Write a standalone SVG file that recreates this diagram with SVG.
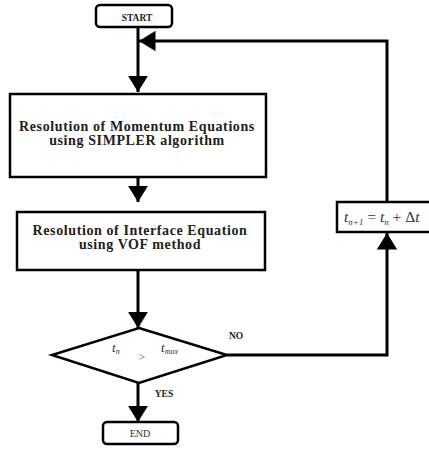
<svg xmlns="http://www.w3.org/2000/svg" width="429" height="450" viewBox="0 0 429 450">
<style>
.box{fill:#fff;stroke:#000;stroke-width:2.5}
.t{font-family:'Liberation Serif',serif;font-weight:bold;fill:#222;text-anchor:middle}
.m{font-family:'Liberation Serif',serif;font-style:italic;fill:#333}
.ln{fill:none;stroke:#000;stroke-width:3}
</style>
<defs>
<marker id="ah" viewBox="0 0 10 10" refX="10" refY="5" markerWidth="5.5" markerHeight="6.8" orient="auto" markerUnits="strokeWidth" preserveAspectRatio="none">
<path d="M0,0 L10,5 L0,10 Z" fill="#000"/>
</marker>
</defs>
<rect width="429" height="450" fill="#fff"/>
<g id="connectors">
<path class="ln" d="M138,27 V92" marker-end="url(#ah)"/>
<path class="ln" d="M138,177 V202" marker-end="url(#ah)"/>
<path class="ln" d="M138,270 V328" marker-end="url(#ah)"/>
<path class="ln" d="M138,383 V422" marker-end="url(#ah)"/>
<path class="ln" d="M227,355 H387 V233" marker-end="url(#ah)"/>
<path class="ln" d="M387,202 V41 H139" marker-end="url(#ah)"/>
<text class="t" x="236" y="339" font-size="9.5">NO</text>
<text class="t" x="164" y="397" font-size="9.5">YES</text>
</g>
<g id="start">
<rect class="box" x="96" y="5" width="76" height="22" rx="4"/>
<text class="t" x="137" y="21" font-size="9.5">START</text>
</g>
<g id="momentum">
<rect class="box" x="10" y="94" width="256" height="83"/>
<text class="t" x="137" y="131" font-size="14" letter-spacing="0.6">Resolution of Momentum Equations</text>
<text class="t" x="137" y="145" font-size="14" letter-spacing="0.6">using SIMPLER algorithm</text>
</g>
<g id="interface">
<rect class="box" x="17" y="212" width="248" height="58"/>
<text class="t" x="140" y="235" font-size="14" letter-spacing="0.6">Resolution of Interface Equation</text>
<text class="t" x="140" y="249" font-size="14" letter-spacing="0.6">using VOF method</text>
</g>
<g id="decision">
<polygon class="box" points="139,328 227,355 139,383 52,355"/>
<text class="m" x="112" y="352" font-size="13">t<tspan font-size="8" dy="2">n</tspan></text>
<text x="142" y="361" font-size="12" font-family="'Liberation Serif', serif" fill="#555" text-anchor="middle">&gt;</text>
<text class="m" x="161" y="352" font-size="13">t<tspan font-size="8" dy="2">max</tspan></text>
</g>
<g id="update">
<rect class="box" x="337" y="202" width="100" height="30"/>
<text class="m" x="344" y="222" font-size="15.5">t<tspan font-size="9" dy="3">n+1</tspan><tspan dy="-3" font-style="normal"> = </tspan>t<tspan font-size="9" dy="3">n</tspan><tspan dy="-3" font-style="normal"> + Δ</tspan>t</text>
</g>
<g id="end">
<rect class="box" x="103" y="422" width="75" height="22" rx="4"/>
<text x="140" y="437" font-size="10" font-family="'Liberation Serif', serif" fill="#333" text-anchor="middle">END</text>
</g>
</svg>
